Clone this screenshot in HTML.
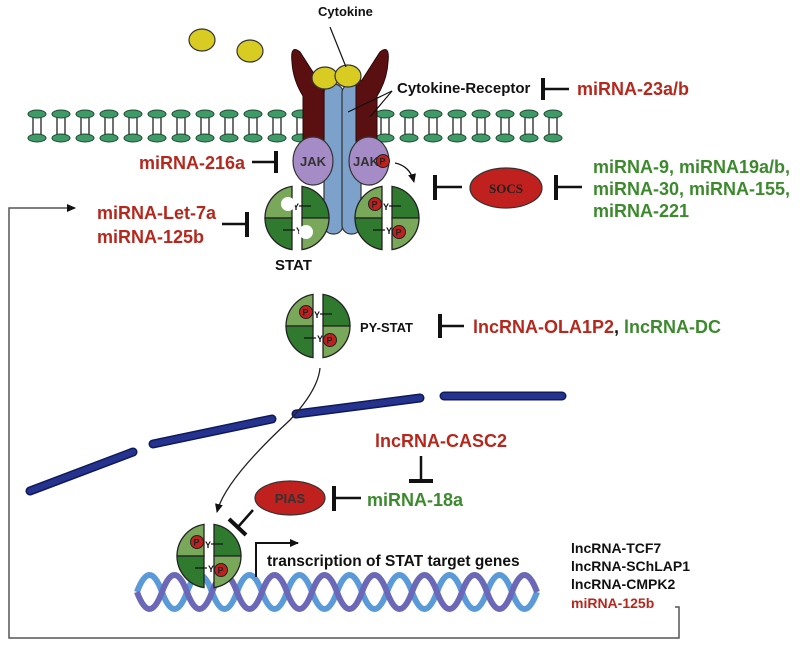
<!DOCTYPE html>
<html><head><meta charset="utf-8"><style>
html,body{margin:0;padding:0;background:#fff}
svg{display:block}
text{font-family:"Liberation Sans",Arial,sans-serif;font-weight:bold}
.r{fill:#b5281e}.g{fill:#3d8a2e}.k{fill:#111}
</style></head><body>
<svg width="800" height="649" viewBox="0 0 800 649" xmlns="http://www.w3.org/2000/svg">
<defs>
<g id="lip">
<line x1="-4" y1="114" x2="-4" y2="138" stroke="#222" stroke-width="1.3"/>
<line x1="4" y1="114" x2="4" y2="138" stroke="#222" stroke-width="1.3"/>
<ellipse cx="0" cy="114" rx="9" ry="4" fill="#3f9a68" stroke="#1d4a30" stroke-width="1"/>
<ellipse cx="0" cy="138" rx="9" ry="4" fill="#3f9a68" stroke="#1d4a30" stroke-width="1"/>
</g>
<g id="stat">
<path d="M-5,-31.6 A32,32 0 0 0 -32,0 L-5,0 Z" fill="#7aa85a" stroke="#222" stroke-width="1.3"/>
<path d="M-32,0 A32,32 0 0 0 -5,31.6 L-5,0 Z" fill="#2f7a2f" stroke="#222" stroke-width="1.3"/>
<path d="M5,-31.6 A32,32 0 0 1 32,0 L5,0 Z" fill="#2f7a2f" stroke="#222" stroke-width="1.3"/>
<path d="M32,0 A32,32 0 0 1 5,31.6 L5,0 Z" fill="#7aa85a" stroke="#222" stroke-width="1.3"/>
<line x1="2" y1="-12" x2="14" y2="-12" stroke="#111" stroke-width="1.2"/>
<line x1="-14" y1="12" x2="-2" y2="12" stroke="#111" stroke-width="1.2"/>
<text x="-4" y="-8" font-size="9" class="k">Y</text>
<text x="-1" y="16" font-size="9" class="k">Y</text>
</g>
<g id="pp">
<circle cx="-12" cy="-14" r="6.5" fill="#c0201e" stroke="#222" stroke-width="1"/>
<text x="-15.5" y="-10.5" font-size="9" fill="#222" font-weight="normal">P</text>
<circle cx="12" cy="14" r="6.5" fill="#c0201e" stroke="#222" stroke-width="1"/>
<text x="8.5" y="17.5" font-size="9" fill="#222" font-weight="normal">P</text>
</g>
<marker id="ah" markerWidth="10" markerHeight="10" refX="8" refY="5" orient="auto" markerUnits="userSpaceOnUse">
<path d="M0,1 L9,5 L0,9 Z" fill="#111"/></marker>
</defs>

<g>
<use href="#lip" x="37"/><use href="#lip" x="61"/><use href="#lip" x="85"/><use href="#lip" x="109"/>
<use href="#lip" x="133"/><use href="#lip" x="157"/><use href="#lip" x="181"/><use href="#lip" x="205"/>
<use href="#lip" x="229"/><use href="#lip" x="253"/><use href="#lip" x="277"/><use href="#lip" x="301"/>
<use href="#lip" x="385"/><use href="#lip" x="409"/><use href="#lip" x="433"/><use href="#lip" x="457"/>
<use href="#lip" x="481"/><use href="#lip" x="505"/><use href="#lip" x="529"/><use href="#lip" x="553"/>
</g>

<ellipse cx="202" cy="40" rx="13" ry="11" fill="#d8cc22" stroke="#333" stroke-width="1.2"/>
<ellipse cx="250" cy="51" rx="13" ry="11" fill="#d8cc22" stroke="#333" stroke-width="1.2"/>

<rect x="324" y="84" width="19" height="150" rx="9" fill="#7ca2cc" stroke="#333" stroke-width="1.2"/>
<rect x="342" y="84" width="19" height="150" rx="9" fill="#7ca2cc" stroke="#333" stroke-width="1.2"/>
<path d="M292,62 Q290,44 300,52 L318,80 L324,82 L324,142 L303,142 L303,96 Q293,80 292,62 Z" fill="#5a1010" stroke="#2a0808" stroke-width="1"/>
<path d="M388,62 Q390,44 380,52 L362,80 L356,82 L356,142 L377,142 L377,96 Q387,80 388,62 Z" fill="#5a1010" stroke="#2a0808" stroke-width="1"/>
<ellipse cx="325" cy="78" rx="13" ry="11" fill="#d8cc22" stroke="#333" stroke-width="1.2"/>
<ellipse cx="348" cy="76" rx="13" ry="11" fill="#d8cc22" stroke="#333" stroke-width="1.2"/>

<text x="318" y="16" font-size="13" class="k">Cytokine</text>
<line x1="330" y1="27" x2="346" y2="67" stroke="#111" stroke-width="1.2"/>
<text x="397" y="93" font-size="15" class="k">Cytokine-Receptor</text>
<line x1="392" y1="91" x2="348" y2="112" stroke="#111" stroke-width="1.2"/>
<line x1="392" y1="91" x2="370" y2="117" stroke="#111" stroke-width="1.2"/>

<line x1="543" y1="78" x2="543" y2="100" stroke="#111" stroke-width="4"/>
<line x1="543" y1="89" x2="569" y2="89" stroke="#111" stroke-width="2.5"/>
<text x="577" y="95" font-size="18" class="r">miRNA-23a/b</text>

<ellipse cx="313" cy="161" rx="20" ry="24" fill="#a68cc6" stroke="#333" stroke-width="1.2"/>
<ellipse cx="369" cy="161" rx="20" ry="24" fill="#a68cc6" stroke="#333" stroke-width="1.2"/>
<text x="300" y="166" font-size="13" fill="#333">JAK</text>
<text x="353" y="166" font-size="13" fill="#333">JAK</text>
<circle cx="383" cy="161" r="6.5" fill="#c0201e" stroke="#222" stroke-width="1"/>
<text x="379.5" y="164.5" font-size="9" fill="#222" font-weight="normal">P</text>
<path d="M395,163 Q410,166 414,182" fill="none" stroke="#111" stroke-width="1.3" marker-end="url(#ah)"/>

<text x="245" y="169" font-size="18" class="r" text-anchor="end">miRNA-216a</text>
<line x1="252" y1="162" x2="276" y2="162" stroke="#111" stroke-width="2.5"/>
<line x1="276" y1="151" x2="276" y2="173" stroke="#111" stroke-width="4"/>

<g transform="translate(297,218)"><use href="#stat"/>
<circle cx="-9" cy="-14" r="7" fill="#fff"/><circle cx="9" cy="14" r="7" fill="#fff"/></g>
<g transform="translate(387,218)"><use href="#stat"/><use href="#pp"/></g>
<text x="275" y="270" font-size="15" class="k">STAT</text>

<text x="97" y="219" font-size="18" class="r">miRNA-Let-7a</text>
<text x="97" y="243" font-size="18" class="r">miRNA-125b</text>
<line x1="222" y1="224" x2="247" y2="224" stroke="#111" stroke-width="2.5"/>
<line x1="247" y1="212" x2="247" y2="237" stroke="#111" stroke-width="4"/>

<line x1="435" y1="175" x2="435" y2="200" stroke="#111" stroke-width="4"/>
<line x1="435" y1="187" x2="462" y2="187" stroke="#111" stroke-width="2.5"/>
<ellipse cx="506" cy="188" rx="36" ry="20" fill="#c0201e" stroke="#333" stroke-width="1.2"/>
<text x="506" y="193" font-size="13" fill="#222" text-anchor="middle" style="font-family:'Liberation Serif',serif">SOCS</text>
<line x1="556" y1="175" x2="556" y2="200" stroke="#111" stroke-width="4"/>
<line x1="556" y1="187" x2="582" y2="187" stroke="#111" stroke-width="2.5"/>
<text x="593" y="173" font-size="18" class="g">miRNA-9, miRNA19a/b,</text>
<text x="593" y="195" font-size="18" class="g">miRNA-30, miRNA-155,</text>
<text x="593" y="217" font-size="18" class="g">miRNA-221</text>

<polyline points="675,607 679,607 679,638 9,638 9,208 75,208" fill="none" stroke="#555" stroke-width="1.5" marker-end="url(#ah)"/>

<g transform="translate(318,326)"><use href="#stat"/><use href="#pp"/></g>
<text x="360" y="332" font-size="13" class="k">PY-STAT</text>
<line x1="440" y1="314" x2="440" y2="338" stroke="#111" stroke-width="4"/>
<line x1="440" y1="326" x2="464" y2="326" stroke="#111" stroke-width="2.5"/>
<text x="473" y="333" font-size="18"><tspan class="r">lncRNA-OLA1P2</tspan><tspan class="k">, </tspan><tspan class="g">lncRNA-DC</tspan></text>

<g stroke="#0f1a5c" stroke-width="9" stroke-linecap="round">
<line x1="30" y1="491" x2="133" y2="452"/>
<line x1="153" y1="444" x2="272" y2="419"/>
<line x1="296" y1="414" x2="420" y2="398"/>
<line x1="444" y1="396" x2="562" y2="396"/>
</g>
<g stroke="#25338f" stroke-width="6" stroke-linecap="round">
<line x1="30" y1="491" x2="133" y2="452"/>
<line x1="153" y1="444" x2="272" y2="419"/>
<line x1="296" y1="414" x2="420" y2="398"/>
<line x1="444" y1="396" x2="562" y2="396"/>
</g>

<path d="M320,368 Q318,390 290,420 Q225,480 217,512" fill="none" stroke="#222" stroke-width="1.3" marker-end="url(#ah)"/>

<text x="375" y="447" font-size="18" class="r">lncRNA-CASC2</text>
<line x1="421" y1="456" x2="421" y2="481" stroke="#111" stroke-width="2.5"/>
<line x1="409" y1="481" x2="433" y2="481" stroke="#111" stroke-width="4"/>

<ellipse cx="290" cy="498" rx="35" ry="17" fill="#c0201e" stroke="#333" stroke-width="1.2"/>
<text x="290" y="503" font-size="13" fill="#333" text-anchor="middle" font-weight="normal">PIAS</text>
<line x1="334" y1="486" x2="334" y2="511" stroke="#111" stroke-width="4"/>
<line x1="334" y1="498" x2="361" y2="498" stroke="#111" stroke-width="2.5"/>
<text x="367" y="506" font-size="18" class="g">miRNA-18a</text>
<line x1="253" y1="510" x2="238" y2="527" stroke="#111" stroke-width="2.5"/>
<line x1="229" y1="519" x2="246" y2="535" stroke="#111" stroke-width="4"/>

<path d="M137,592 q12.5,-34 25,0 t25,0 t25,0 t25,0 t25,0 t25,0 t25,0 t25,0 t25,0 t25,0 t25,0 t25,0 t25,0 t25,0 t25,0 t25,0" fill="none" stroke="#5b9ad8" stroke-width="6"/>
<path d="M137,592 q12.5,34 25,0 t25,0 t25,0 t25,0 t25,0 t25,0 t25,0 t25,0 t25,0 t25,0 t25,0 t25,0 t25,0 t25,0 t25,0 t25,0" fill="none" stroke="#6c68b8" stroke-width="6"/>

<g transform="translate(209,556)"><use href="#stat"/><use href="#pp"/></g>

<polyline points="256,577 256,543 298,543" fill="none" stroke="#111" stroke-width="2" marker-end="url(#ah)"/>
<text x="267" y="566" font-size="15.5" class="k">transcription of STAT target genes</text>

<text x="571" y="553" font-size="14" class="k">lncRNA-TCF7</text>
<text x="571" y="571" font-size="14" class="k">lncRNA-SChLAP1</text>
<text x="571" y="589" font-size="14" class="k">lncRNA-CMPK2</text>
<text x="571" y="608" font-size="14" class="r">miRNA-125b</text>
</svg>
</body></html>
